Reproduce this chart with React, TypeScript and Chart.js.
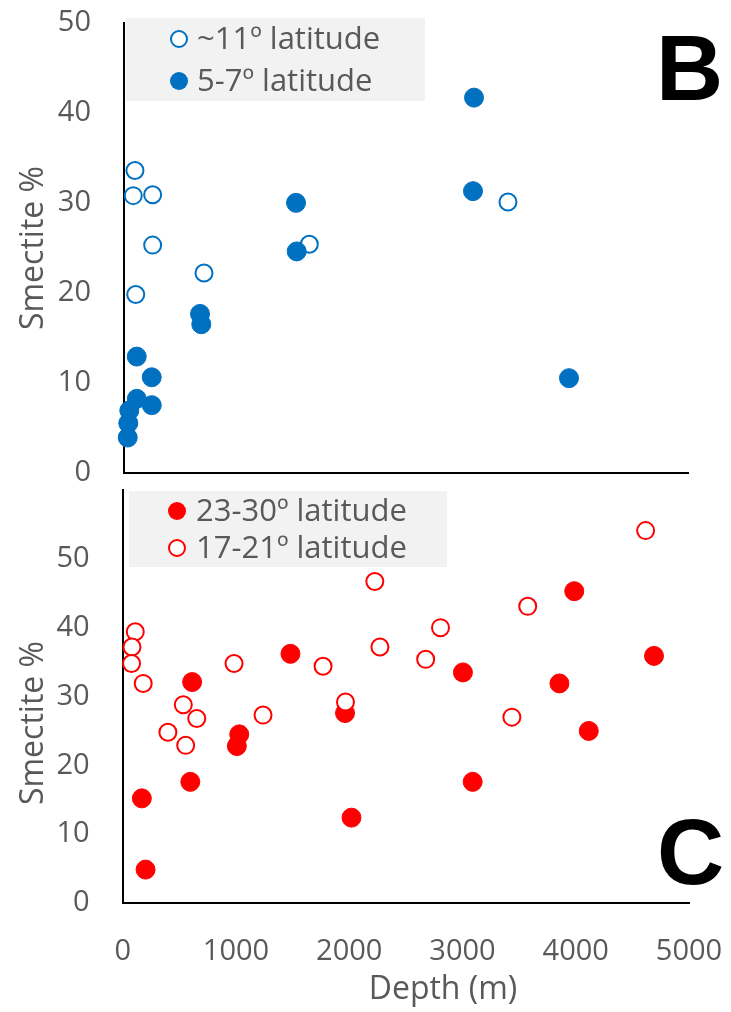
import React, { useEffect, useRef } from 'react';
import { Chart, registerables } from 'chart.js';

Chart.register(...registerables);

const FONT = '"Open Sans", "DejaVu Sans", sans-serif';
const GRAY = '#595959';
const BLUE = '#0070C0';
const RED = '#FF0000';

// ---------- Panel B data (Depth m, Smectite %) ----------
const bLegendLabels = ['~11º latitude', '5-7º latitude'];
const bOpenDepth = [97, 82, 254, 254, 104, 709, 1643, 3404];
const bOpenSmectite = [33.6, 30.8, 30.9, 25.3, 19.8, 22.2, 25.4, 30.1];
const bFilledDepth = [1525, 1531, 674, 685, 113, 246, 113, 246, 47, 38, 33, 3103, 3094, 3945];
const bFilledSmectite = [30.0, 24.6, 17.65, 16.5, 12.9, 10.6, 8.2, 7.5, 6.9, 5.5, 3.9, 41.7, 31.3, 10.5];

// ---------- Panel C data ----------
const cLegendLabels = ['23-30º latitude', '17-21º latitude'];
const cFilledDepth = [1481, 613, 3004, 4691, 3987, 3856, 4115, 1963, 1029, 1008, 597, 3090, 169, 2020, 202];
const cFilledSmectite = [36.2, 32.1, 33.5, 35.9, 45.3, 31.9, 25.0, 27.6, 24.5, 22.8, 17.6, 17.6, 15.2, 12.4, 4.85];
const cOpenDepth = [4617, 2226, 3576, 2806, 2271, 2675, 1769, 983, 111, 82, 78, 181, 535, 654, 399, 556, 1239, 1967, 3436];
const cOpenSmectite = [54.1, 46.7, 43.1, 40.0, 37.2, 35.4, 34.4, 34.8, 39.4, 37.2, 34.8, 31.9, 28.8, 26.8, 24.8, 22.9, 27.3, 29.2, 27.0];

// ---------- axes / labels ----------
const xTicks = [0, 1000, 2000, 3000, 4000, 5000];
const yTicksB = [0, 10, 20, 30, 40, 50];
const yTicksC = [0, 10, 20, 30, 40, 50, 60];
const yTitle = 'Smectite %';
const xTitle = 'Depth (m)';
const panelLetters = ['B', 'C'];

const toPoints = (xs: number[], ys: number[]) => xs.map((x, i) => ({ x, y: ys[i] }));

type LegendItem = { label: string; filled: boolean; color: string };
type PanelCfg = {
  W: number; H: number;
  left: number; right: number; top: number; bottom: number;
  yMax: number; yTicks: number[]; hiddenTicks: number[];
  showX: boolean;
  datasets: any[];
  legendBox: [number, number, number, number];
  legendMarkerX: number; legendTextX: number; legendYs: number[];
  legendItems: LegendItem[];
  letter: string; letterLeft: number; letterBaseline: number;
  yTitleCenter: number;
  xTitlePos?: [number, number];
};

function drawMarker(ctx: CanvasRenderingContext2D, x: number, y: number, filled: boolean, color: string, r: number) {
  ctx.beginPath();
  ctx.arc(x, y, r, 0, Math.PI * 2);
  if (filled) {
    ctx.fillStyle = color;
    ctx.fill();
  } else {
    ctx.fillStyle = '#FFFFFF';
    ctx.fill();
    ctx.lineWidth = 2;
    ctx.strokeStyle = color;
    ctx.stroke();
  }
}

function makeChart(canvas: HTMLCanvasElement, cfg: PanelCfg) {
  const decor = {
    id: 'panelDecor',
    beforeDatasetsDraw(chart: any) {
      const ctx = chart.ctx as CanvasRenderingContext2D;
      ctx.save();
      const [bx, by, bw, bh] = cfg.legendBox;
      ctx.fillStyle = '#F2F2F2';
      ctx.fillRect(bx, by, bw, bh);
      cfg.legendItems.forEach((it, i) => {
        const y = cfg.legendYs[i];
        drawMarker(ctx, cfg.legendMarkerX, y, it.filled, it.color, it.filled ? 9 : 8);
        ctx.font = `31px ${FONT}`;
        ctx.fillStyle = GRAY;
        ctx.textAlign = 'left';
        ctx.textBaseline = 'middle';
        ctx.fillText(it.label, cfg.legendTextX, y + 1);
      });
      ctx.restore();
    },
    afterDraw(chart: any) {
      const ctx = chart.ctx as CanvasRenderingContext2D;
      ctx.save();
      // panel letter
      ctx.font = `bold 93px "Liberation Sans", Arial, sans-serif`;
      ctx.fillStyle = '#000000';
      ctx.textAlign = 'left';
      ctx.textBaseline = 'alphabetic';
      const m = ctx.measureText(cfg.letter);
      ctx.fillText(cfg.letter, cfg.letterLeft + m.actualBoundingBoxLeft, cfg.letterBaseline);
      // y title
      ctx.font = `32px ${FONT}`;
      ctx.fillStyle = GRAY;
      ctx.textAlign = 'center';
      ctx.textBaseline = 'middle';
      ctx.save();
      ctx.translate(34, cfg.yTitleCenter);
      ctx.rotate(-Math.PI / 2);
      ctx.fillText(yTitle, 0, 0);
      ctx.restore();
      if (cfg.xTitlePos) {
        ctx.fillText(xTitle, cfg.xTitlePos[0], cfg.xTitlePos[1]);
      }
      ctx.restore();
    },
  };

  return new Chart(canvas, {
    type: 'scatter',
    data: { datasets: cfg.datasets },
    plugins: [decor],
    options: {
      responsive: false,
      animation: false,
      events: [],
      layout: { padding: { top: cfg.top, right: cfg.W - cfg.right, left: 0, bottom: 0 } },
      plugins: { legend: { display: false }, tooltip: { enabled: false } },
      scales: {
        x: {
          type: 'linear',
          min: 0,
          max: 5000,
          afterFit: (s: any) => { s.height = cfg.H - cfg.bottom; },
          afterBuildTicks: (s: any) => { s.ticks = xTicks.map((v) => ({ value: v })); },
          grid: { display: false, drawTicks: true, tickLength: 31 },
          border: { display: true, color: '#000000', width: 2 },
          ticks: {
            display: cfg.showX,
            padding: 0,
            color: GRAY,
            font: { family: FONT, size: 29, lineHeight: 1.2 },
            callback: (v: any) => String(v),
          },
          title: { display: false },
        },
        y: {
          type: 'linear',
          min: 0,
          max: cfg.yMax,
          afterFit: (s: any) => { s.width = cfg.left; },
          afterBuildTicks: (s: any) => { s.ticks = cfg.yTicks.map((v) => ({ value: v })); },
          grid: { display: false, drawTicks: true, tickLength: 33 },
          border: { display: true, color: '#000000', width: 2 },
          ticks: {
            padding: 0,
            color: GRAY,
            font: { family: FONT, size: 29, lineHeight: 1.2 },
            callback: (v: any) => (cfg.hiddenTicks.includes(v) ? '' : String(v)),
          },
          title: { display: false },
        },
      },
    },
  } as any);
}

const openDs = (data: any[], color: string) => ({
  data,
  showLine: false,
  clip: false,
  pointRadius: 8.5,
  pointBorderWidth: 2,
  pointBackgroundColor: '#FFFFFF',
  pointBorderColor: color,
  pointHoverRadius: 8.5,
});
const filledDs = (data: any[], color: string) => ({
  data,
  showLine: false,
  clip: false,
  pointRadius: 9.5,
  pointBorderWidth: 1,
  pointBackgroundColor: color,
  pointBorderColor: color,
  pointHoverRadius: 9.5,
});

export default function App() {
  const topRef = useRef<HTMLCanvasElement | null>(null);
  const botRef = useRef<HTMLCanvasElement | null>(null);

  useEffect(() => {
    const top = makeChart(topRef.current!, {
      W: 731, H: 490,
      left: 124, right: 688, top: 23, bottom: 472.7,
      yMax: 50, yTicks: yTicksB, hiddenTicks: [],
      showX: false,
      // dataset 0 is drawn on top
      datasets: [
        filledDs(toPoints(bFilledDepth, bFilledSmectite), BLUE),
        openDs(toPoints(bOpenDepth, bOpenSmectite), BLUE),
      ],
      legendBox: [126, 18, 299, 83],
      legendMarkerX: 179, legendTextX: 197, legendYs: [39, 81],
      legendItems: [
        { label: bLegendLabels[0], filled: false, color: BLUE },
        { label: bLegendLabels[1], filled: true, color: BLUE },
      ],
      letter: panelLetters[0], letterLeft: 662, letterBaseline: 100,
      yTitleCenter: 248,
    });
    const bot = makeChart(botRef.current!, {
      W: 731, H: 542,
      left: 122.7, right: 689, top: 20, bottom: 433,
      yMax: 60, yTicks: yTicksC, hiddenTicks: [60],
      showX: true,
      datasets: [
        openDs(toPoints(cOpenDepth, cOpenSmectite), RED),
        filledDs(toPoints(cFilledDepth, cFilledSmectite), RED),
      ],
      legendBox: [129, 21, 318, 76],
      legendMarkerX: 177, legendTextX: 196, legendYs: [41, 78],
      legendItems: [
        { label: cLegendLabels[0], filled: true, color: RED },
        { label: cLegendLabels[1], filled: false, color: RED },
      ],
      letter: panelLetters[1], letterLeft: 660, letterBaseline: 414,
      yTitleCenter: 253,
      xTitlePos: [443, 520],
    });
    return () => {
      top.destroy();
      bot.destroy();
    };
  }, []);

  return (
    <div style={{ position: 'absolute', left: 0, top: 0, width: 731, height: 1012, background: '#FFFFFF' }}>
      <canvas ref={topRef} width={731} height={490} style={{ position: 'absolute', left: 0, top: 0 }} />
      <canvas ref={botRef} width={731} height={542} style={{ position: 'absolute', left: 0, top: 470 }} />
    </div>
  );
}
